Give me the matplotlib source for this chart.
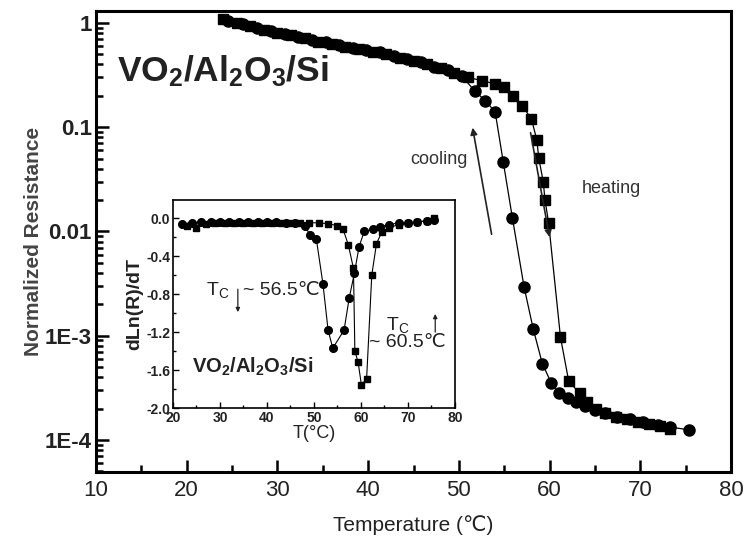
import numpy as np
import matplotlib
matplotlib.use('Agg')
import matplotlib.pyplot as plt
from matplotlib.ticker import FixedLocator, FixedFormatter, MultipleLocator, LogLocator, NullFormatter, FormatStrFormatter

# Main curve: heating (squares)
heat_T = [24.0, 25.5, 27.0, 28.5, 30.0, 31.5, 33.0, 34.5, 36.0, 37.5, 39.0, 40.5, 42.0, 43.5,
          45.0, 46.5, 48.0, 49.5, 51.0, 52.5, 54.0, 55.0, 56.0, 57.0, 58.0, 58.6, 58.8, 59.3,
          59.5, 59.9, 61.2, 62.1, 63.3, 64.1, 65.1, 66.1, 67.3, 68.5, 69.8, 71.0, 72.2, 73.3]
heat_R = [1.10, 1.00, 0.93, 0.86, 0.80, 0.76, 0.71, 0.66, 0.63, 0.59, 0.56, 0.53, 0.50, 0.46,
          0.43, 0.40, 0.37, 0.33, 0.30, 0.28, 0.26, 0.24, 0.20, 0.16, 0.12, 0.075, 0.051, 0.030,
          0.020, 0.012, 9.7e-4, 3.7e-4, 2.8e-4, 2.3e-4, 2.0e-4, 1.82e-4, 1.66e-4, 1.58e-4,
          1.50e-4, 1.42e-4, 1.35e-4, 1.27e-4]

# Main curve: cooling (circles)
cool_T = [24.5, 26.2, 27.8, 29.3, 30.8, 32.3, 33.8, 35.3, 36.8, 38.3, 39.8, 41.3, 42.8, 44.3,
          45.8, 47.3, 48.8, 50.3, 51.8, 52.9, 54.0, 54.9, 55.9, 57.2, 58.2, 59.2, 60.2, 61.0,
          62.0, 62.9, 63.9, 65.0, 66.1, 67.4, 68.9, 70.3, 71.9, 73.3, 75.4]
cool_R = [1.05, 0.97, 0.90, 0.84, 0.78, 0.73, 0.69, 0.65, 0.61, 0.58, 0.55, 0.52, 0.48, 0.45,
          0.42, 0.38, 0.35, 0.31, 0.22, 0.18, 0.14, 0.046, 0.0135, 2.9e-3, 1.16e-3, 5.4e-4,
          3.5e-4, 2.8e-4, 2.5e-4, 2.3e-4, 2.1e-4, 1.94e-4, 1.82e-4, 1.66e-4, 1.59e-4, 1.49e-4,
          1.39e-4, 1.33e-4, 1.25e-4]

# Inset: dLn(R)/dT
in_cool_T = [22.0, 24.0, 26.0, 28.0, 30.0, 32.0, 34.0, 36.0, 38.0, 40.0, 42.0, 44.0, 46.0,
             48.0, 49.2, 50.5, 51.9, 53.0, 54.0, 56.4, 57.5, 58.6, 59.6, 60.7, 62.5, 64.0,
             66.0, 68.0, 70.0, 72.0, 74.0, 75.5]
in_cool_v = [-0.06, -0.05, -0.04, -0.04, -0.04, -0.04, -0.04, -0.04, -0.04, -0.04, -0.04, -0.05,
             -0.05, -0.08, -0.18, -0.22, -0.69, -1.18, -1.37, -1.18, -0.84, -0.58, -0.30, -0.14,
             -0.12, -0.09, -0.07, -0.05, -0.05, -0.04, -0.03, -0.02]
in_heat_T = [23.0, 25.0, 27.0, 29.0, 31.0, 33.0, 35.0, 37.0, 39.0, 41.0, 43.0, 45.0, 47.0,
             49.0, 51.0, 53.0, 55.0, 56.2, 57.3, 58.4, 58.7, 59.4, 60.1, 61.2, 62.3, 63.3,
             64.4, 66.0, 68.0, 70.0, 72.0, 74.0, 75.5]
in_heat_v = [-0.08, -0.10, -0.06, -0.05, -0.05, -0.05, -0.05, -0.05, -0.05, -0.05, -0.05, -0.05,
             -0.05, -0.05, -0.05, -0.06, -0.08, -0.12, -0.28, -0.53, -1.40, -1.52, -1.76, -1.69,
             -0.60, -0.27, -0.15, -0.10, -0.07, -0.05, -0.04, -0.03, 0.0]

main_yticks = [1, 0.1, 0.01, 1e-3, 1e-4]
main_ylabels = ['1', '0.1', '0.01', '1E-3', '1E-4']

narrow = ['Liberation Sans Narrow', 'DejaVu Sans Condensed', 'Liberation Sans', 'DejaVu Sans']
plt.rcParams['font.family'] = ['Liberation Sans', 'DejaVu Sans']
plt.rcParams['mathtext.fontset'] = 'custom'
plt.rcParams['mathtext.rm'] = 'Liberation Sans'
plt.rcParams['mathtext.it'] = 'Liberation Sans:italic'
plt.rcParams['mathtext.bf'] = 'Liberation Sans:bold'
txt = '#222222'

fig = plt.figure(figsize=(7.45, 5.41), dpi=100)
ax = fig.add_axes([0.1289, 0.1275, 0.8523, 0.8522])

ax.plot(heat_T, heat_R, '-s', color='black', ms=6.5, lw=0.9)
ax.plot(cool_T, cool_R, '-o', color='black', ms=8, lw=0.9)
ax.set_yscale('log')
ax.set_xlim(10, 80)
ax.set_ylim(4.93e-5, 1.30)

ax.xaxis.set_major_locator(MultipleLocator(10))
ax.xaxis.set_minor_locator(MultipleLocator(5))
ax.yaxis.set_major_locator(FixedLocator(main_yticks))
ax.yaxis.set_major_formatter(FixedFormatter(main_ylabels))
ax.yaxis.set_minor_locator(LogLocator(base=10, subs=np.arange(2, 10)))
ax.yaxis.set_minor_formatter(NullFormatter())
ax.tick_params(which='both', direction='in', top=False, right=False, width=1.8, colors='black',
               labelcolor=txt)
ax.tick_params(which='major', length=9)
ax.tick_params(which='minor', length=5)
ax.tick_params(axis='y', labelsize=16, pad=3)
ax.tick_params(axis='x', labelsize=16, pad=6)
for lab in ax.get_yticklabels():
    lab.set_fontweight('bold')
for lab in ax.get_xticklabels():
    lab.set_family(narrow)
for s in ax.spines.values():
    s.set_linewidth(2.2)

ax.set_xlabel('Temperature (\u2103)', fontsize=15, family=narrow, color=txt, labelpad=10)
ax.set_ylabel('Normalized Resistance', fontsize=15, fontweight='bold', color='#444444', labelpad=1)

ax.text(0.033, 0.87, r'$\mathbf{VO_2/Al_2O_3/Si}$', transform=ax.transAxes, fontsize=25.5,
        color=txt, ha='left', va='center')
ax.text(51.0, 0.0485, 'cooling', fontsize=13, color='#333333', ha='right', va='center')
ax.text(63.6, 0.026, 'heating', fontsize=13, color='#333333', ha='left', va='center')
ax.annotate('', xy=(51.46, 0.105), xytext=(53.66, 8.85e-3),
            arrowprops=dict(arrowstyle='-|>', color='#222222', lw=1.2, mutation_scale=10))
ax.annotate('', xy=(60.05, 8.3e-3), xytext=(57.85, 0.094),
            arrowprops=dict(arrowstyle='-|>', color='#222222', lw=1.2, mutation_scale=10))

# inset
ins = fig.add_axes([0.2322, 0.2458, 0.3785, 0.3845])
ins.plot(in_heat_T, in_heat_v, '-s', color='black', ms=5, lw=0.8)
ins.plot(in_cool_T, in_cool_v, '-o', color='black', ms=5.5, lw=0.8)
ins.set_xlim(20, 80)
ins.set_ylim(-2.0, 0.19)
ins.xaxis.set_major_locator(MultipleLocator(10))
ins.xaxis.set_minor_locator(MultipleLocator(5))
ins.yaxis.set_major_locator(MultipleLocator(0.4))
ins.yaxis.set_minor_locator(MultipleLocator(0.2))
ins.yaxis.set_major_formatter(FormatStrFormatter('%.1f'))
ins.tick_params(which='both', direction='in', top=False, right=False, width=1.0, labelcolor=txt)
ins.tick_params(which='major', length=4, labelsize=10, pad=2)
ins.tick_params(which='minor', length=2)
for lab in ins.get_yticklabels() + ins.get_xticklabels():
    lab.set_fontweight('bold')
for s in ins.spines.values():
    s.set_linewidth(1.2)
ins.set_xlabel('T(\u00b0C)', fontsize=13, color=txt, labelpad=0)
ins.set_ylabel('dLn(R)/dT', fontsize=14, fontweight='bold', color=txt, labelpad=2)

ins.text(27.0, -0.76, r'$\mathrm{T_C}$', fontsize=14, color=txt, ha='left', va='center')
ins.annotate('', xy=(33.8, -1.02), xytext=(33.8, -0.72),
             arrowprops=dict(arrowstyle='-|>', color=txt, lw=0.9, mutation_scale=6))
ins.text(35.0, -0.76, '~ 56.5\u2103', fontsize=14, color=txt, ha='left', va='center')
ins.text(65.3, -1.13, r'$\mathrm{T_C}$', fontsize=14, color=txt, ha='left', va='center')
ins.annotate('', xy=(75.8, -0.98), xytext=(75.8, -1.23),
             arrowprops=dict(arrowstyle='-|>', color=txt, lw=0.9, mutation_scale=6))
ins.text(61.8, -1.31, '~ 60.5\u2103', fontsize=14, color=txt, ha='left', va='center')
ins.text(24.0, -1.57, r'$\mathbf{VO_2/Al_2O_3/Si}$', fontsize=14.5, color=txt, ha='left',
         va='center')

fig.savefig('out.png', dpi=100)
